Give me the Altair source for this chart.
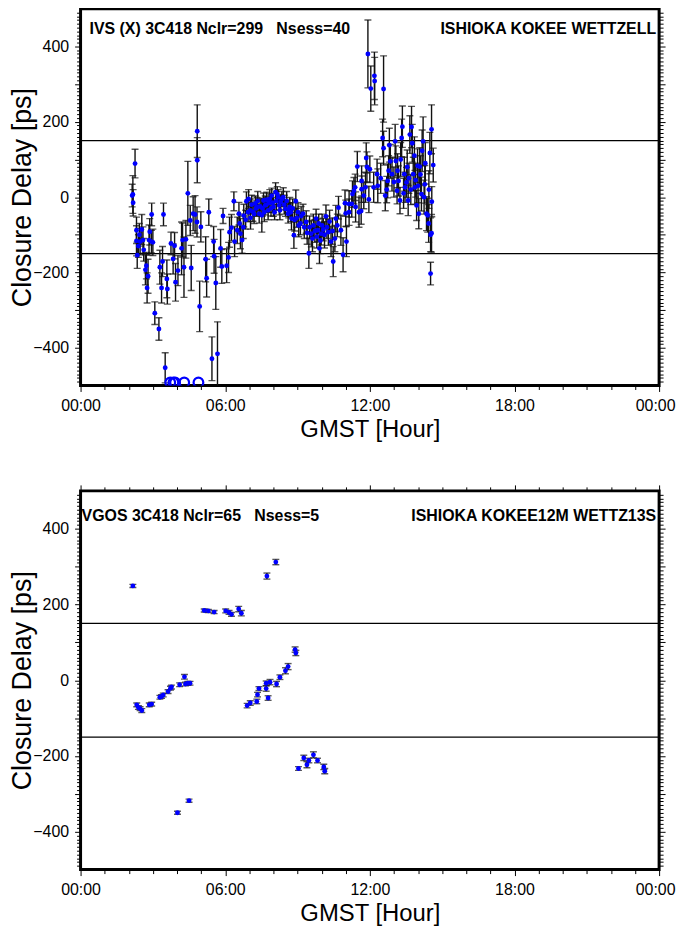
import altair as alt
import pandas as pd

# ---------------- IVS (X) panel ----------------
ivs_hour = [
    2.14, 2.17, 2.18, 2.26, 2.32, 2.32, 2.35, 2.40, 2.44, 2.47, 2.54, 2.59, 2.62, 2.69, 2.73, 2.76, 2.80, 2.84, 2.87, 2.95,
    2.94, 3.00, 3.08, 3.25, 3.29, 3.36, 3.40, 3.44, 3.51, 3.58, 3.60, 3.75, 3.84, 3.90, 3.94, 4.04, 4.19, 4.23, 4.29, 4.37,
    4.45, 4.55, 4.59, 4.67, 4.75, 4.83, 4.84, 4.84, 4.94, 4.99, 5.19, 5.23, 5.32, 5.45, 5.52, 5.54, 5.61, 5.68, 5.81, 5.86,
    5.91, 6.06, 6.14, 6.18, 6.26, 6.36, 6.39, 6.50, 6.57, 6.63, 6.70, 6.77, 6.88, 6.97, 7.04, 7.15, 7.25, 7.32, 7.41, 7.52,
    7.59, 7.66, 7.72, 7.82, 7.93, 8.00, 8.09, 8.16, 8.24, 8.30, 8.41, 8.50, 8.61, 8.68, 8.75, 8.85, 8.93, 9.02, 9.12, 9.23,
    9.36, 9.47, 9.57, 9.66, 9.77, 9.84, 9.91, 9.98, 10.07, 10.18, 10.28, 10.39, 10.48, 10.59, 10.70, 10.80, 10.89, 10.97, 11.03, 11.14,
    11.25, 11.34, 11.41, 11.55, 11.66, 11.75,
    6.60, 6.75, 6.85, 6.95, 7.05, 7.10, 7.20, 7.28, 7.35, 7.45, 7.55, 7.62, 7.70, 7.78, 7.85, 7.90, 7.97, 8.05, 8.12, 8.20,
    8.27, 8.35, 8.45, 8.55, 8.63, 8.72, 8.80, 8.88, 8.97, 9.05, 9.15, 9.28, 9.40, 9.50, 9.62, 9.72, 9.80, 9.88, 9.95, 10.02,
    10.12, 10.22, 10.33, 10.45, 10.55, 10.65,
    11.92, 12.04, 12.19, 12.20, 12.57, 12.53, 12.57, 11.85, 11.88, 12.00, 11.66, 11.48, 11.39, 11.28, 11.14, 11.00, 11.64, 11.82, 11.96, 12.16,
    12.33, 12.30, 12.64, 12.74, 12.78, 12.81, 12.92, 13.05, 13.08, 13.13, 13.19, 13.25, 13.32, 13.35, 13.43, 13.46, 13.52, 13.59, 13.66, 13.73,
    13.76, 13.80, 13.87, 13.94, 13.98, 14.03, 14.07, 14.14, 14.17, 14.21, 14.28, 14.35, 14.40, 14.44, 14.49, 14.52, 14.56, 14.56, 14.57, 14.63,
    14.52,
    12.45, 12.70, 12.85, 13.00, 13.15, 13.28, 13.40, 13.55, 13.62, 13.70, 13.85, 13.90, 14.00, 14.10, 14.25, 14.30, 14.45,
]
ivs_delay = [
    4, 7, -15, 89, -88, -116, -154, -130, -100, -118, -86, -114, -140, -193, -182, -241, -210, -114, -92, -46,
    -118, -120, -308, -350, -186, -241, -171, -46, -453, -217, -244, -123, -164, -129, -226, -195, -136, -114, -186, -112,
    10, -62, -188, -44, -46, -66, 175, 98, -290, -79, -165, -215, -40, -429, -118, -157, -228, -416, -136, -184,
    -50, -182, -160, -93, -81, -11, -118, -88, -44, -97, -114, -49, -11, -5, -35, -39, -17, -26, -44, -48,
    -9, -22, -7, -16, 4, -26, 13, 8, -22, -13, 0, -31, -44, -26, -57, -101, -11, -40, -70, -44,
    -66, -149, -97, -75, -57, -88, -136, -97, -86, -51, -93, -118, -171, -57, -28, -88, -153, -16, -118, -40,
    -18, 17, -26, -40, 21, 4,
    -70, -80, -60, -40, -55, -20, -45, -30, -10, -25, -30, -40, -20, -35, -5, -30, -15, -40, -10, 0,
    -35, -5, -20, -10, -35, -40, -30, -60, -55, -75, -50, -80, -95, -80, -110, -90, -105, -70, -115, -75,
    -100, -80, -65, -90, -110, -75,
    380, 288, 322, 308, 287, 157, 130, 104, 80, 74, 43, 81, 26, 8, -18, -43, -37, 26, -6, 26,
    30, 61, 4, 43, 70, 138, 61, 148, 96, 17, 43, -9, 157, 187, 61, 26, 39, -9, 166, 186,
    143, 61, 26, -22, 83, -44, 81, 8, 123, 148, 34, -44, -48, -70, 117, -100, -96, 180, -12, 85,
    -203,
    50, 20, 95, 40, 70, 100, 10, 80, 50, 20, 110, 45, 30, 60, 0, 90, 20,
]
ivs_err = [
    30, 50, 35, 38, 35, 40, 35, 30, 30, 35, 40, 35, 30, 40, 35, 40, 45, 40, 35, 30,
    30, 35, 30, 30, 45, 40, 40, 30, 40, 50, 40, 30, 40, 35, 50, 40, 70, 45, 80, 50,
    85, 40, 60, 45, 50, 40, 70, 60, 67, 40, 60, 50, 35, 58, 40, 45, 70, 85, 50, 45,
    20, 45, 40, 40, 35, 25, 40, 35, 30, 40, 35, 30, 25, 25, 30, 25, 20, 25, 25, 45,
    20, 25, 20, 25, 20, 25, 25, 20, 25, 20, 25, 20, 25, 25, 30, 35, 30, 25, 30, 25,
    30, 40, 35, 30, 25, 30, 40, 30, 30, 30, 35, 40, 40, 35, 30, 40, 45, 35, 40, 35,
    35, 35, 40, 40, 35, 35,
    25, 30, 25, 25, 30, 25, 25, 20, 25, 20, 20, 25, 20, 25, 25, 20, 25, 20, 25, 20,
    25, 20, 25, 25, 20, 25, 25, 30, 25, 30, 25, 30, 30, 30, 35, 30, 30, 25, 35, 30,
    35, 30, 30, 35, 35, 30,
    90, 60, 63, 63, 88, 50, 45, 40, 40, 35, 40, 40, 35, 35, 35, 35, 35, 40, 35, 40,
    45, 40, 40, 45, 40, 45, 45, 45, 40, 35, 40, 35, 50, 55, 45, 40, 40, 40, 50, 55,
    50, 45, 45, 40, 45, 40, 50, 45, 55, 65, 50, 45, 45, 50, 55, 45, 50, 65, 40, 45,
    30,
    40, 35, 45, 40, 45, 45, 40, 45, 40, 40, 50, 45, 45, 50, 45, 55, 50,
]
# out-of-range closures (drawn as open circles at the lower edge)
ivs_clip_hour = [3.72, 3.85, 3.92, 4.30, 4.89]

# ---------------- VGOS panel ----------------
vgos_hour = [
    2.17, 2.33, 2.40, 2.47, 2.54, 2.85, 2.95, 3.29, 3.36, 3.43, 3.63, 3.73, 3.77, 4.02, 4.11, 4.31, 4.35, 4.45, 4.50, 4.54,
    5.13, 5.30, 5.54, 6.02, 6.16, 6.26, 6.56, 6.67, 6.91, 7.04, 7.31, 7.34, 7.40, 7.70, 7.73, 7.78, 7.70, 7.86, 8.10, 8.13,
    8.27, 8.50, 8.61, 8.90, 8.93, 9.04, 9.26, 9.39, 9.47, 9.66, 9.83, 10.09, 10.13,
]
vgos_delay = [
    249, -65, -72, -75, -80, -65, -63, -45, -43, -39, -30, -21, -18, -350, -12, 9, -10, -8, -318, -8,
    184, 183, 180, 183, 179, 174, 188, 177, -67, -60, -56, -38, -22, -22, 275, -47, -8, -5, 312, -10,
    8, 25, 36, 81, 72, -233, -205, -223, -212, -197, -212, -229, -240,
]
vgos_err = [
    4, 5, 5, 5, 5, 5, 5, 5, 5, 5, 5, 5, 5, 4, 5, 6, 5, 5, 4, 5,
    4, 4, 4, 5, 5, 5, 7, 7, 6, 6, 6, 6, 5, 7, 8, 6, 6, 7, 7, 7,
    6, 8, 8, 7, 7, 5, 7, 8, 6, 8, 6, 7, 7,
]
vgos_clip_hour = []

FONT = "Liberation Sans"
X_TICKS = list(range(0, 25))
Y_TICKS = list(range(-490, 491, 10))
X_LABEL = "datum.value % 6 == 0 ? ((datum.value % 24 < 10 ? '0' : '') + (datum.value % 24) + ':00') : ''"
Y_LABEL = "datum.value % 200 == 0 ? datum.label : ''"
X_TS = {"condition": {"test": "datum.value % 6 == 0", "value": 6}, "value": 4}
Y_TS = {"condition": {"test": "datum.value % 100 == 0", "value": 6}, "value": 4}
X_FS = {"condition": {"test": "datum.value % 6 == 0", "value": 16}, "value": 0}
Y_FS = {"condition": {"test": "datum.value % 200 == 0", "value": 16}, "value": 0}
X_LO = {"condition": {"test": "datum.value == 24", "value": -4}, "value": 0}


def panel(hours, delays, errs, clip_hours, left_label, right_label, left_x, text_y, h):
    df = pd.DataFrame({"hour": hours, "delay": delays, "err": errs})
    df["lo"] = df["delay"] - df["err"]
    df["hi"] = df["delay"] + df["err"]
    xs = alt.Scale(domain=[0, 24], nice=False, zero=False)
    ys = alt.Scale(domain=[-500, 500], nice=False, zero=False)

    ax_bottom = alt.Axis(orient="bottom", values=X_TICKS, labelExpr=X_LABEL, tickSize=X_TS,
                         labelFontSize=X_FS, labelOffset=X_LO, labelPadding=6, labelOverlap=False,
                         labelFlush=False, title="GMST [Hour]", titlePadding=4, titleFontSize=24)
    ax_left = alt.Axis(orient="left", values=Y_TICKS, labelExpr=Y_LABEL, tickSize=Y_TS,
                       labelFontSize=Y_FS, labelPadding=6, labelOverlap=False, labelFlush=False,
                       title="Closure Delay [ps]", titlePadding=-4, titleFontSize=27)
    ax_top = alt.Axis(orient="top", values=X_TICKS, labels=False, tickSize=X_TS, title=None)
    ax_right = alt.Axis(orient="right", values=Y_TICKS, labels=False, tickSize=Y_TS, title=None)

    base = alt.Chart(df)
    hl = alt.Chart(pd.DataFrame({"y": [-150, 150]})).mark_rule(color="black", strokeWidth=1.2).encode(
        y=alt.Y("y:Q", scale=ys, axis=None))
    bars = base.mark_rule(color="#111111", strokeWidth=1.4, clip=True).encode(
        x=alt.X("hour:Q", scale=xs, axis=ax_bottom),
        y=alt.Y("lo:Q", scale=ys, axis=ax_left),
        y2="hi:Q")
    caps = base.transform_fold(["lo", "hi"], as_=["k", "v"]).mark_tick(
        orient="horizontal", size=7, thickness=1.4, color="#111111", clip=True).encode(
        x=alt.X("hour:Q", scale=xs, axis=None),
        y=alt.Y("v:Q", scale=ys, axis=None))
    pts = base.mark_circle(color="#0000ff", size=24, opacity=1).encode(
        x=alt.X("hour:Q", scale=xs, axis=ax_top),
        y=alt.Y("delay:Q", scale=ys, axis=ax_right))
    layers = [hl, bars, caps, pts]
    if clip_hours:
        cdf = pd.DataFrame({"hour": clip_hours, "delay": [-492] * len(clip_hours)})
        layers.append(alt.Chart(cdf).mark_point(shape="circle", filled=False, color="#0000ff",
                                                size=95, strokeWidth=2.2, opacity=1, clip=True).encode(
            x=alt.X("hour:Q", scale=xs, axis=None),
            y=alt.Y("delay:Q", scale=ys, axis=None)))
    tl = alt.Chart(pd.DataFrame({"t": [left_label]})).mark_text(
        align="left", baseline="middle", font=FONT, fontSize=16, fontWeight="bold", color="black").encode(
        text="t:N", x=alt.value(left_x), y=alt.value(text_y))
    tr = alt.Chart(pd.DataFrame({"t": [right_label]})).mark_text(
        align="right", baseline="middle", font=FONT, fontSize=16, fontWeight="bold", color="black").encode(
        text="t:N", x=alt.value(579), y=alt.value(text_y))
    layers += [tl, tr]
    return alt.layer(*layers).resolve_axis(x="independent", y="independent").properties(width=582, height=h)


top = panel(ivs_hour, ivs_delay, ivs_err, ivs_clip_hour,
            "IVS (X) 3C418 Nclr=299\u00a0\u00a0\u00a0Nsess=40", "ISHIOKA KOKEE WETTZELL", 9, 20, 379)
bottom = panel(vgos_hour, vgos_delay, vgos_err, vgos_clip_hour,
               "VGOS 3C418 Nclr=65\u00a0\u00a0\u00a0Nsess=5", "ISHIOKA KOKEE12M WETTZ13S", 1, 25, 381)

chart = alt.vconcat(top, bottom, spacing=40).properties(
    padding={"left": -1, "top": -10, "right": 0, "bottom": 0}
).configure_view(stroke="black", strokeWidth=3).configure_axis(
    domain=False, grid=False, tickColor="black", tickWidth=1, labelColor="black", titleColor="black",
    labelFont=FONT, titleFont=FONT, titleFontWeight="normal"
)

chart.save("out.html", embed_options={"renderer": "svg", "actions": False})
